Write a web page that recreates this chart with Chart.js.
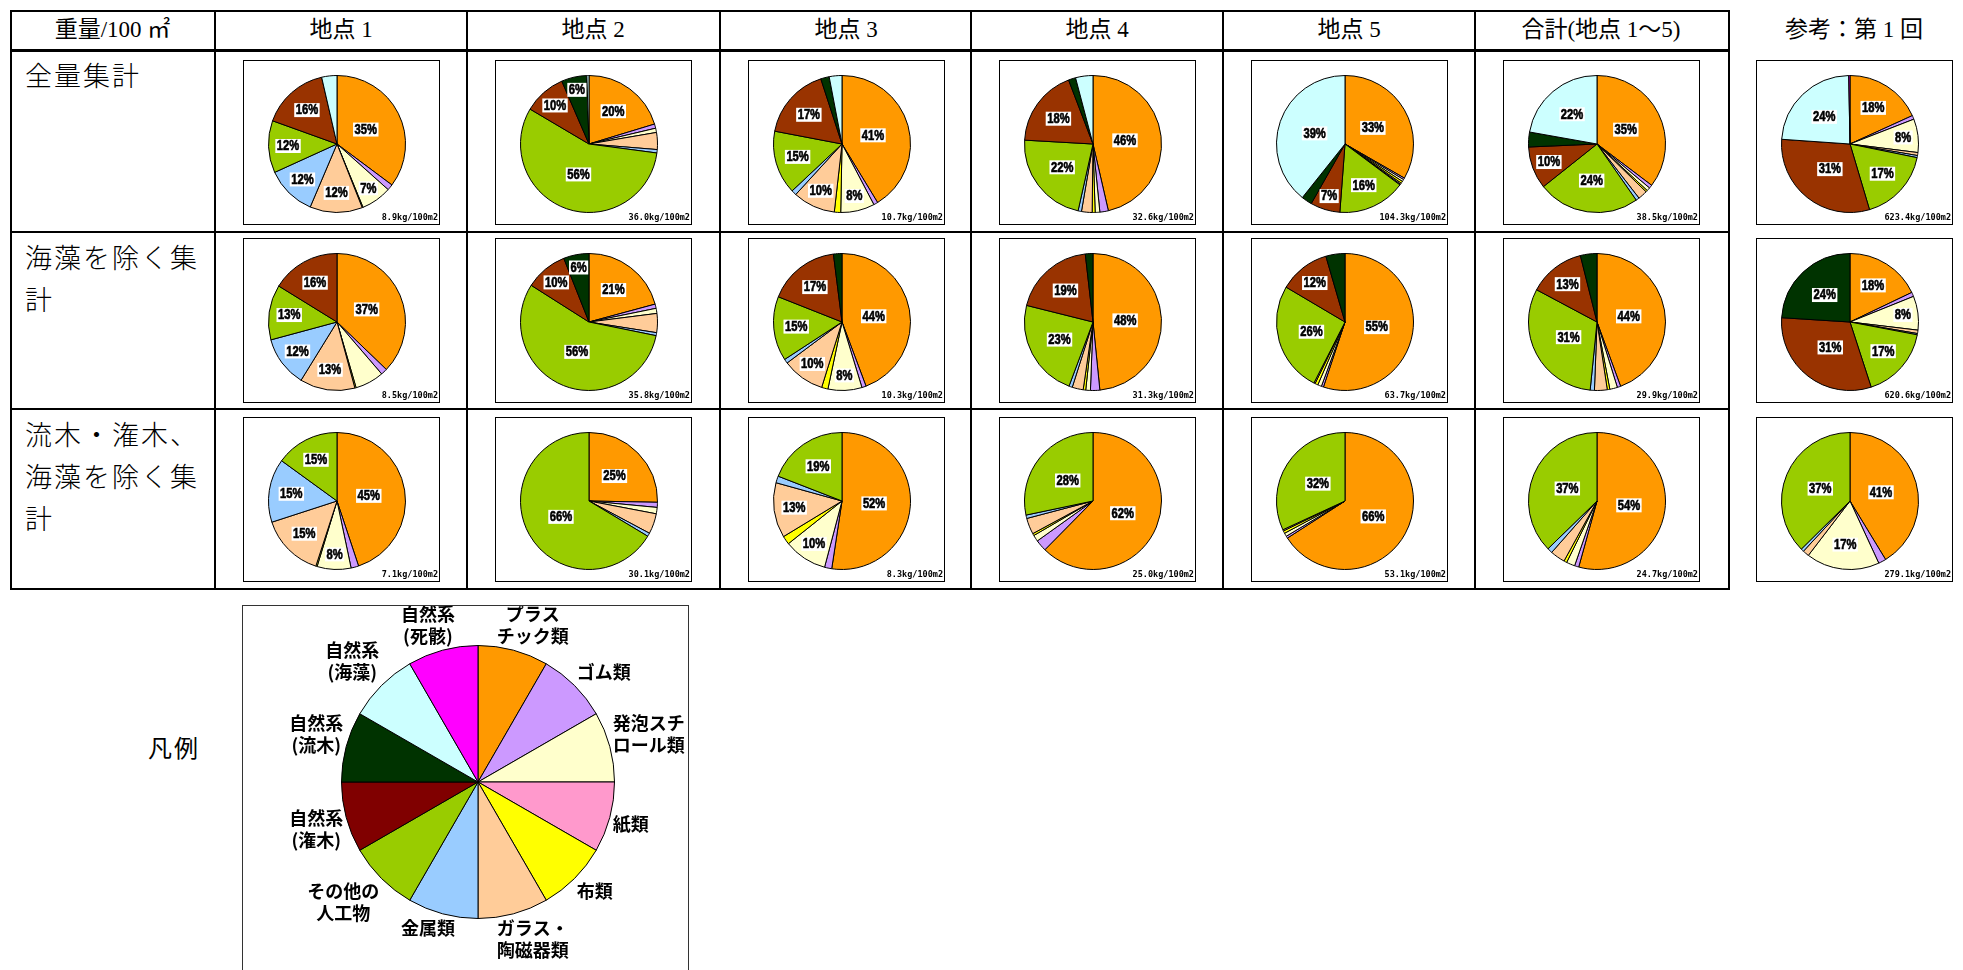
<!DOCTYPE html>
<html lang="ja">
<head>
<meta charset="utf-8">
<title>重量/100㎡ 組成</title>
<script src="https://cdn.jsdelivr.net/npm/chart.js@4.4.1/dist/chart.umd.min.js"></script>
<style>
  html, body { margin: 0; padding: 0; background: #fff; }
  body { width: 1963px; height: 970px; position: relative; overflow: hidden;
         font-family: "Noto Sans CJK JP", sans-serif; color: #000; }
  .abs { position: absolute; }
  .frame { border: 2px solid #000; box-sizing: border-box; }
  .line { background: #000; }
  .head { height: 40px; line-height: 40px; text-align: center; font-size: 23px; white-space: nowrap;
          font-family: "Liberation Serif", "Noto Sans CJK JP", serif; }
  .rowhead { font-size: 27px; line-height: 42px; letter-spacing: 2px; font-weight: 300; }
  .piebox { width: 197px; height: 165px; border: 1px solid #000; box-sizing: border-box; background: #fff; }
  .piebox canvas { position: absolute; left: 23px; top: 13px; }
  .kg { position: absolute; right: 1px; bottom: 2px; font: bold 8.5px "DejaVu Sans Mono", monospace; }
  .legendbox { border: 1px solid #333; box-sizing: border-box; }
</style>
</head>
<body>
<script>
// categories, clockwise from 12 o'clock
const categories = ['プラスチック類', 'ゴム類', '発泡スチロール類', '紙類', '布類', 'ガラス・陶磁器類',
  '金属類', 'その他の人工物', '自然系(潅木)', '自然系(流木)', '自然系(海藻)', '自然系(死骸)'];
const legendLabels = ['プラス\nチック類', 'ゴム類', '発泡スチ\nロール類', '紙類', '布類', 'ガラス・\n陶磁器類',
  '金属類', 'その他の\n人工物', '自然系\n(潅木)', '自然系\n(流木)', '自然系\n(海藻)', '自然系\n(死骸)'];
const legendShares = [1, 1, 1, 1, 1, 1, 1, 1, 1, 1, 1, 1];

const sites = ['地点 1', '地点 2', '地点 3', '地点 4', '地点 5', '合計(地点 1～5)', '参考：第 1 回'];
const aggregations = ['全量集計', '海藻を除く集計', '流木・潅木、海藻を除く集計'];

// % by category, one array per site (same order as sites)
const allWaste = [
  [35.2, 1.4, 7.2, 0, 0.2, 12.4, 11.8, 12.3, 15.9, 0, 3.6, 0],
  [20.3, 1.0, 1.0, 0, 0, 4.0, 0.8, 56.4, 10.0, 6.0, 0.5, 0],
  [41.3, 1.0, 8.0, 0, 1.5, 10.0, 1.2, 15.0, 17.0, 2.0, 3.0, 0],
  [46.4, 2.0, 1.1, 0, 0.7, 2.5, 0.8, 22.4, 18.3, 1.7, 4.1, 0],
  [33.3, 0.4, 0.5, 0, 0.5, 0.3, 0.2, 16.0, 7.0, 2.5, 39.3, 0],
  [35.3, 0.8, 0.8, 0, 0.4, 2.2, 0.8, 24.0, 10.0, 3.5, 22.2, 0],
  [18.2, 0.9, 7.9, 0, 0, 0.7, 0.5, 17.2, 30.7, 0, 23.6, 0.3]
];
const exSeaweed = [
  [37.2, 1.5, 6.8, 0, 0.3, 13.0, 12.0, 13.0, 16.2, 0, 0, 0],
  [20.8, 1.0, 1.2, 0, 0, 4.5, 0.7, 55.8, 10.0, 6.0, 0, 0],
  [44.3, 1.0, 8.0, 0, 1.5, 10.0, 1.0, 15.2, 17.0, 2.0, 0, 0],
  [48.4, 2.2, 1.1, 0, 0.6, 2.6, 0.8, 23.2, 19.3, 1.8, 0, 0],
  [55.1, 0.5, 0.9, 0, 0.7, 0.3, 0, 26.0, 12.0, 4.5, 0, 0],
  [44.4, 0.8, 1.8, 0, 0.6, 3.0, 1.0, 31.2, 13.3, 3.9, 0, 0],
  [17.9, 1.0, 8.0, 0, 0, 0.8, 0.3, 17.0, 31.0, 24.0, 0, 0]
];
const exWoodSeaweed = [
  [44.9, 1.8, 8.0, 0, 0.3, 15.0, 15.0, 15.0, 0, 0, 0, 0],
  [25.3, 1.2, 1.5, 0, 0, 4.8, 0.8, 66.4, 0, 0, 0, 0],
  [52.4, 1.7, 10.2, 0, 2.0, 13.0, 1.6, 19.1, 0, 0, 0, 0],
  [62.4, 2.7, 1.5, 0, 0.5, 3.8, 0.8, 28.3, 0, 0, 0, 0],
  [65.9, 0.5, 0.8, 0, 0.6, 0.3, 0, 31.9, 0, 0, 0, 0],
  [54.3, 1.0, 2.0, 0, 0.7, 3.5, 1.2, 37.3, 0, 0, 0, 0],
  [41.3, 1.8, 17.3, 0, 0, 1.5, 0.7, 37.4, 0, 0, 0, 0]
];

// kg/100m2
const allWeights = [8.9, 36.0, 10.7, 32.6, 104.3, 38.5, 623.4];
const exSeaweedWeights = [8.5, 35.8, 10.3, 31.3, 63.7, 29.9, 620.6];
const exWoodSeaweedWeights = [7.1, 30.1, 8.3, 25.0, 53.1, 24.7, 279.1];

const tableRows = [allWaste, exSeaweed, exWoodSeaweed];
const tableWeights = [allWeights, exSeaweedWeights, exWoodSeaweedWeights];

// labels that were removed in the original ("row-col": category indexes)
const hiddenLabels = { '1-0': [2] };

const sliceColors = ['#FF9900', '#CC99FF', '#FFFFCC', '#FF99CC', '#FFFF00', '#FFCC99',
  '#99CCFF', '#99CC00', '#993300', '#003300', '#CCFFFF', '#FF00FF'];
const legendColors = sliceColors.map((c, i) => i === 8 ? '#800000' : c);

// layout
const colX = [215, 467, 720, 971, 1223, 1475, 1728];
const rowY = [50, 232, 409];
const boxTop = [60, 238, 417];

function addDiv(cls, css, text) {
  const d = document.createElement('div');
  d.className = 'abs ' + cls;
  Object.assign(d.style, css);
  if (text !== undefined) d.textContent = text;
  document.body.appendChild(d);
  return d;
}

// grid
addDiv('frame', { left: '10px', top: '10px', width: '1720px', height: '580px' });
colX.slice(0, 6).forEach(x => addDiv('line', { left: (x - 1) + 'px', top: '10px', width: '2px', height: '580px' }));
rowY.forEach((y, i) => addDiv('line', { left: '10px', top: (y - 1) + 'px', width: '1720px', height: i === 0 ? '3px' : '2px' }));

// headers
addDiv('head', { left: '10px', top: '10px', width: '205px' }, '重量/100 ㎡');
sites.forEach((s, i) => addDiv('head', { left: colX[i] + 'px', top: '10px', width: '252px' }, s));
aggregations.forEach((a, i) => addDiv('rowhead', { left: '25px', top: (rowY[i] + 4) + 'px', width: '186px' }, a));
addDiv('', { left: '148px', top: '729px', fontSize: '24px', letterSpacing: '2px' }, '凡例');

const pctLabels = {
  id: 'pctLabels',
  afterDatasetsDraw(chart, args, opts) {
    const ctx = chart.ctx;
    const values = chart.data.datasets[0].data;
    const total = values.reduce((a, b) => a + b, 0);
    const hide = opts.hide || [];
    ctx.save();
    ctx.font = 'bold 14px "Liberation Sans", Arial, sans-serif';
    ctx.textAlign = 'center';
    ctx.textBaseline = 'middle';
    ctx.lineWidth = 0.6;
    ctx.strokeStyle = '#000';
    chart.getDatasetMeta(0).data.forEach((arc, i) => {
      const pct = values[i] / total * 100;
      if (pct < 5.5 || hide.includes(i)) return;
      const p = arc.getProps(['x', 'y', 'startAngle', 'endAngle', 'outerRadius'], true);
      const mid = (p.startAngle + p.endAngle) / 2;
      const f = pct >= 30 ? 0.47 : Math.max(0.47, 0.9 - 0.015 * pct);
      const lx = p.x + Math.cos(mid) * p.outerRadius * f;
      const ly = p.y + Math.sin(mid) * p.outerRadius * f;
      const text = Math.round(pct) + '%';
      const w = ctx.measureText(text).width * 0.8;
      ctx.fillStyle = '#fff';
      ctx.fillRect(lx - w / 2 - 1.5, ly - 7, w + 3, 14);
      ctx.fillStyle = '#000';
      ctx.save();
      ctx.translate(lx, ly + 0.5);
      ctx.scale(0.8, 1);
      ctx.fillText(text, 0, 0);
      ctx.strokeText(text, 0, 0);
      ctx.restore();
    });
    ctx.restore();
  }
};

// category names around the legend pie, the corner nearest the pie touching a point just outside the rim
const outerLabels = {
  id: 'outerLabels',
  afterDatasetsDraw(chart) {
    const ctx = chart.ctx;
    const lineH = 22;
    const clamp = v => Math.max(-1, Math.min(1, v));
    ctx.save();
    ctx.font = 'bold 18px "Noto Sans CJK JP", sans-serif';
    ctx.textAlign = 'center';
    ctx.textBaseline = 'middle';
    ctx.fillStyle = '#000';
    chart.getDatasetMeta(0).data.forEach((arc, i) => {
      const p = arc.getProps(['x', 'y', 'startAngle', 'endAngle', 'outerRadius'], true);
      const mid = (p.startAngle + p.endAngle) / 2;
      const lines = chart.data.labels[i].split('\n');
      const w = Math.max(...lines.map(l => ctx.measureText(l).width));
      const h = lines.length * lineH;
      const cx = Math.cos(mid), cy = Math.sin(mid);
      const r = p.outerRadius + 3;
      const x = p.x + cx * r + clamp(cx * 2) * w / 2;
      const y = p.y + cy * r + clamp(cy * 2) * h / 2;
      lines.forEach((l, k) => ctx.fillText(l, x, y - h / 2 + lineH / 2 + k * lineH));
    });
    ctx.restore();
  }
};

function makePie(canvas, labels, values, colors, padding, plugins, pluginOpts) {
  return new Chart(canvas.getContext('2d'), {
    type: 'pie',
    data: {
      labels: labels,
      datasets: [{
        data: values,
        backgroundColor: colors,
        borderColor: '#000',
        borderWidth: c => c.raw > 0 ? 1 : 0
      }]
    },
    options: {
      responsive: false,
      animation: false,
      events: [],
      layout: { padding: padding },
      plugins: Object.assign({ legend: { display: false }, tooltip: { enabled: false } }, pluginOpts)
    },
    plugins: plugins
  });
}

tableRows.forEach((row, r) => {
  row.forEach((values, c) => {
    const box = addDiv('piebox', { left: Math.round(colX[c] + 27.5) + 'px', top: boxTop[r] + 'px' });
    const cv = document.createElement('canvas');
    cv.width = 140; cv.height = 140;
    box.appendChild(cv);
    const kg = document.createElement('div');
    kg.className = 'kg';
    kg.textContent = tableWeights[r][c].toFixed(1) + 'kg/100m2';
    box.appendChild(kg);
    makePie(cv, categories, values, sliceColors, 1, [pctLabels],
      { pctLabels: { hide: hiddenLabels[r + '-' + c] || [] } });
  });
});

// legend pie
const lbox = addDiv('legendbox', { left: '242px', top: '605px', width: '447px', height: '420px' });
const lcv = document.createElement('canvas');
lcv.width = 445; lcv.height = 364;
lcv.style.position = 'absolute';
lcv.style.left = '0px'; lcv.style.top = '0px';
lbox.appendChild(lcv);
makePie(lcv, legendLabels, legendShares, legendColors, { left: 98, right: 73, top: 39, bottom: 51 }, [outerLabels], {});
</script>
</body>
</html>
